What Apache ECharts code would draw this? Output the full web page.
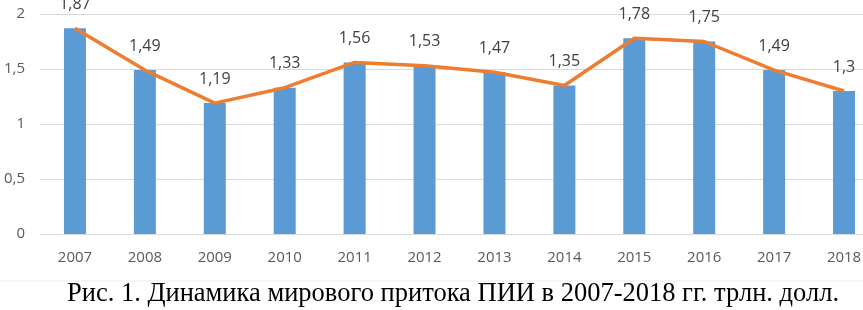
<!DOCTYPE html>
<html><head><meta charset="utf-8">
<script src="https://cdn.jsdelivr.net/npm/echarts@6/dist/echarts.min.js"></script>
<style>html,body{margin:0;padding:0;background:#fff}#c{width:863px;height:310px}</style>
</head><body><div id="c"></div>
<script>
const categories = ['2007','2008','2009','2010','2011','2012','2013','2014','2015','2016','2017','2018'];
const values = [1.87,1.49,1.19,1.33,1.56,1.53,1.47,1.35,1.78,1.75,1.49,1.3];
const yTicks = [0,0.5,1,1.5,2];
const caption = 'Рис. 1. Динамика мирового притока ПИИ в 2007-2018 гг. трлн. долл.';
const fmt = v => String(v).replace('.', ',');
const chart = echarts.init(document.getElementById('c'));
chart.setOption({
  animation:false,
  grid:{left:40,width:839,top:14,height:220,outerBoundsMode:'none'},
  xAxis:{type:'category',data:categories,
    axisLine:{show:true,lineStyle:{color:'#d9d9d9'}},axisTick:{show:false},
    axisLabel:{color:'#595959',fontSize:15,fontFamily:'Open Sans',margin:16}},
  yAxis:{type:'value',min:yTicks[0],max:yTicks[yTicks.length-1],interval:0.5,
    axisLine:{show:false},axisTick:{show:false},
    splitLine:{lineStyle:{color:'#d9d9d9',width:1}},
    axisLabel:{color:'#595959',fontSize:15,fontFamily:'Open Sans',margin:15,formatter:fmt}},
  series:[
    {type:'bar',data:values,barWidth:22,itemStyle:{color:'#5B9BD5'},z:2,
     label:{show:true,position:'top',distance:16,color:'#404040',fontSize:16,fontFamily:'Open Sans',formatter:p=>fmt(p.value)}},
    {type:'line',data:values,symbol:'none',lineStyle:{color:'#ED7D31',width:3.5},z:3}
  ],
  graphic:[
    {type:'line',shape:{x1:0,y1:281,x2:863,y2:281},style:{stroke:'#ececec',lineWidth:1}},
    {type:'text',x:453,y:281,style:{text:caption,align:'center',font:'26.5px "Liberation Serif"',fill:'#000'}}
  ]
});
</script></body></html>
